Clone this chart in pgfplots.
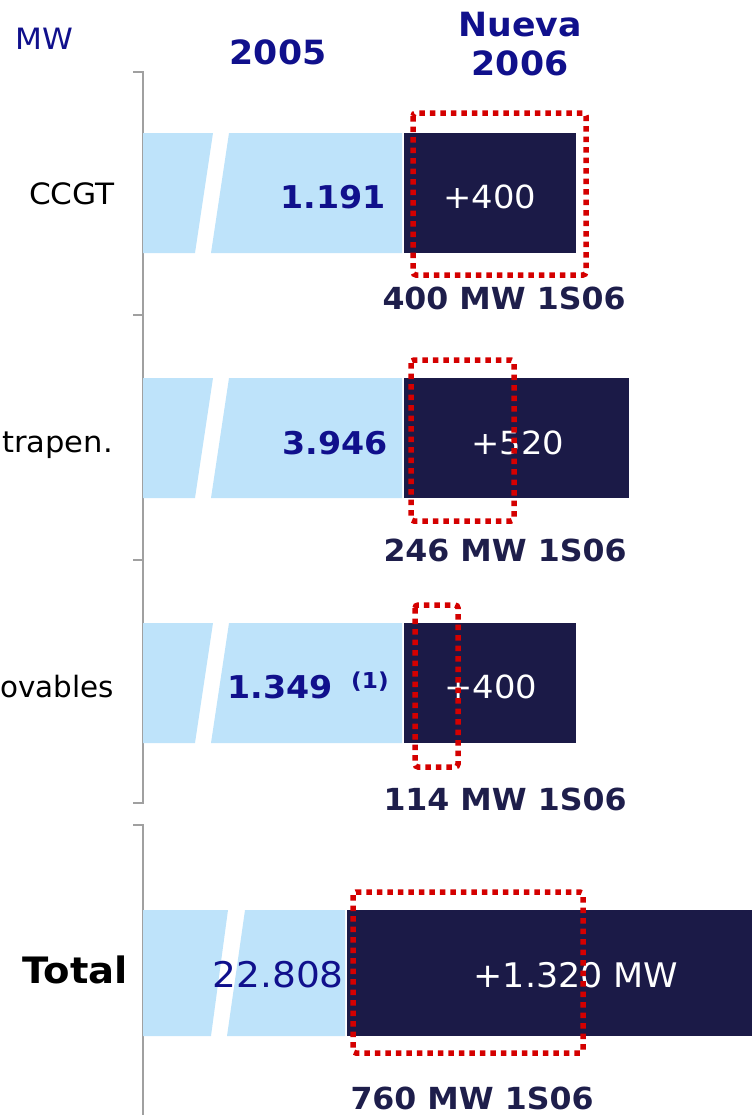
\documentclass[border=0pt]{standalone}
\usepackage{fontspec}
\setmainfont{DejaVu Sans}
\usepackage{pgfplots}
\pgfplotsset{compat=1.18}
\definecolor{lblue}{HTML}{BEE3FA}
\definecolor{navy}{HTML}{1B1A47}
\definecolor{tblue}{HTML}{10108C}
\definecolor{tnavy}{HTML}{1E1E4B}
\definecolor{hred}{HTML}{D40000}
\definecolor{agray}{HTML}{A0A0A0}
\newcommand{\fs}[1]{\fontsize{#1}{#1}\selectfont}
\begin{document}
\begin{tikzpicture}
\begin{axis}[x=1bp,y=1bp,xmin=0,xmax=752,ymin=0,ymax=1115,y dir=reverse,
  hide axis,clip=false,scale only axis]
% axis line
\draw[agray,line width=1.5bp] (133,72) -- (143,72) -- (143,803) -- (133,803);
\draw[agray,line width=1.5bp] (133,315) -- (143,315);
\draw[agray,line width=1.5bp] (133,560) -- (143,560);
\draw[agray,line width=1.5bp] (133,825) -- (143,825) -- (143,1115);
% light blue (2005) broken bars
\addplot[fill=lblue,draw=none] coordinates {(143,133)(213,133)(195,253)(143,253)};
\addplot[fill=lblue,draw=none] coordinates {(229,133)(402,133)(402,253)(211,253)};
\addplot[fill=lblue,draw=none] coordinates {(143,378)(213,378)(195,498)(143,498)};
\addplot[fill=lblue,draw=none] coordinates {(229,378)(402,378)(402,498)(211,498)};
\addplot[fill=lblue,draw=none] coordinates {(143,623)(213,623)(195,743)(143,743)};
\addplot[fill=lblue,draw=none] coordinates {(229,623)(402,623)(402,743)(211,743)};
\addplot[fill=lblue,draw=none] coordinates {(143,910)(228,910)(211,1036)(143,1036)};
\addplot[fill=lblue,draw=none] coordinates {(245,910)(345,910)(345,1036)(227,1036)};
% navy (new 2006) bars
\addplot[fill=navy,draw=none] coordinates {(404,133)(576,133)(576,253)(404,253)};
\addplot[fill=navy,draw=none] coordinates {(404,378)(629,378)(629,498)(404,498)};
\addplot[fill=navy,draw=none] coordinates {(404,623)(576,623)(576,743)(404,743)};
\addplot[fill=navy,draw=none] coordinates {(347,910)(752,910)(752,1036)(347,1036)};
% headers
\node[anchor=west,inner sep=0,xscale=1.06,text=tblue,font=\fs{29.5}] at (15,39) {MW};
\node[inner sep=0,xscale=1.04,text=tblue,font=\bfseries\fs{33.5}] at (278,52) {2005};
\node[inner sep=0,xscale=1.04,text=tblue,font=\bfseries\fs{33.5}] at (520,25) {Nueva};
\node[inner sep=0,xscale=1.04,text=tblue,font=\bfseries\fs{33.5}] at (520,63) {2006};
% category labels
\node[anchor=east,inner sep=0,xscale=1.06,font=\fs{29.5}] at (115,194) {CCGT};
\node[anchor=base east,inner sep=0,xscale=1.04,font=\fs{29.5}] at (113,452) {trapen.};
\node[anchor=base east,inner sep=0,font=\fs{29.5}] at (114,697) {ovables};
\node[anchor=east,inner sep=0,xscale=1.06,font=\bfseries\fs{36.5}] at (128,970) {Total};
% 2005 values
\node[anchor=east,inner sep=0,xscale=1.06,text=tblue,font=\bfseries\fs{31.5}] at (386,197) {1.191};
\node[anchor=east,inner sep=0,xscale=1.06,text=tblue,font=\bfseries\fs{31.5}] at (388,443) {3.946};
\node[anchor=east,inner sep=0,xscale=1.06,text=tblue,font=\bfseries\fs{31.5}] at (333,687) {1.349};
\node[anchor=west,inner sep=0,xscale=1.06,text=tblue,font=\bfseries\fs{22}] at (351,682) {(1)};
\node[anchor=east,inner sep=0,xscale=1.06,text=tblue,font=\fs{35.5}] at (344,975) {22.808};
% increments
\node[inner sep=0,xscale=1.06,text=white,font=\fs{32}] at (490,197) {+400};
\node[inner sep=0,xscale=1.06,text=white,font=\fs{32}] at (518,443) {+520};
\node[inner sep=0,xscale=1.06,text=white,font=\fs{32}] at (491,687) {+400};
\node[inner sep=0,xscale=1.03,text=white,font=\fs{34}] at (576,975) {+1.320 MW};
% 1S06 annotations
\node[inner sep=0,xscale=1.04,text=tnavy,font=\bfseries\fs{30.5}] at (504,298) {400 MW 1S06};
\node[inner sep=0,xscale=1.04,text=tnavy,font=\bfseries\fs{30.5}] at (505,550) {246 MW 1S06};
\node[inner sep=0,xscale=1.04,text=tnavy,font=\bfseries\fs{30.5}] at (505,799) {114 MW 1S06};
\node[inner sep=0,xscale=1.04,text=tnavy,font=\bfseries\fs{30.5}] at (472,1098) {760 MW 1S06};
% red dotted highlight boxes
\begin{scope}[hred,line width=5.5bp,dash pattern=on 5.5bp off 5bp,rounded corners=3bp]
\draw (413,113) rectangle (586,275);
\draw (411,360) rectangle (514,521);
\draw (415,605) rectangle (458,767);
\draw (353,892) rectangle (583,1053);
\end{scope}
\end{axis}
\pgfresetboundingbox
\path[use as bounding box] (current axis.south west) rectangle (current axis.north east);
\end{tikzpicture}
\end{document}
